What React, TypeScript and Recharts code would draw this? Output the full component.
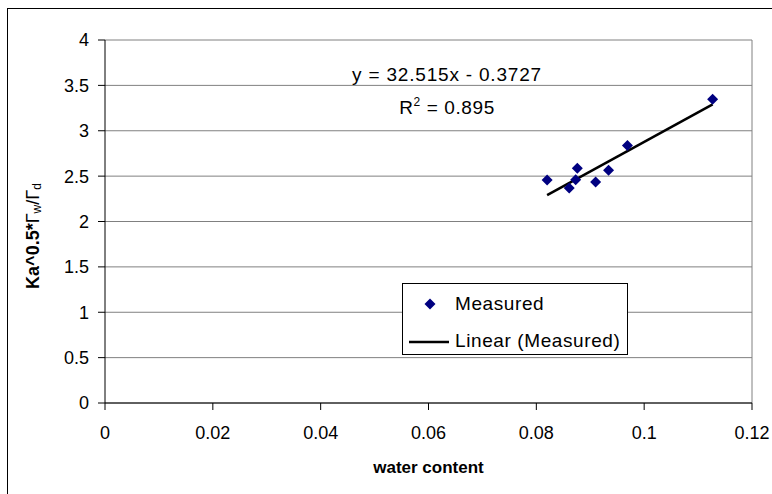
import React from 'react';
import {
  ScatterChart,
  Scatter,
  XAxis,
  YAxis,
  CartesianGrid,
  ReferenceLine,
  Legend,
  Label,
} from 'recharts';

// measured points
const waterContent = [0.082, 0.0861, 0.0873, 0.0876, 0.091, 0.0934, 0.0969, 0.1127];
const kaRatio = [2.456, 2.368, 2.459, 2.588, 2.434, 2.566, 2.837, 3.348];

// ends of the Excel linear trendline
const trendX = [0.082, 0.1127];
const trendY = [2.29, 3.29];

const xTicks = [0, 0.02, 0.04, 0.06, 0.08, 0.1, 0.12];
const yTicks = [0, 0.5, 1, 1.5, 2, 2.5, 3, 3.5, 4];

const equationText = 'y = 32.515x - 0.3727';
const rSquaredText = '0.895';

const measured = waterContent.map((x, i) => ({ x, y: kaRatio[i] }));
const trend = trendX.map((x, i) => ({ x, y: trendY[i] }));

const FONT = '"Liberation Sans", Arial, sans-serif';
const NAVY = '#000080';

const Diamond = (props: any) => {
  const { cx, cy } = props;
  const r = 5.5;
  return (
    <polygon
      points={`${cx},${cy - r} ${cx + r},${cy} ${cx},${cy + r} ${cx - r},${cy}`}
      fill={NAVY}
    />
  );
};

const NoDot = () => <g />;

const YTitle = () => (
  <text
    x={33}
    y={236}
    transform="rotate(-90, 33, 236)"
    textAnchor="middle"
    dominantBaseline="central"
    fontFamily={FONT}
    fontSize={18}
    fill="#000"
  >
    <tspan fontWeight="bold">Ka^0.5*</tspan>
    <tspan>Γ</tspan>
    <tspan fontSize={12} dy={4}>w</tspan>
    <tspan dy={-4}>/</tspan>
    <tspan>Γ</tspan>
    <tspan fontSize={12} dy={4}>d</tspan>
  </text>
);

const LegendBox = () => (
  <div
    style={{
      width: 224,
      height: 70,
      border: '1px solid #000',
      background: '#fff',
      position: 'relative',
      fontFamily: FONT,
      fontSize: 19,
      color: '#000',
    }}
  >
    <svg width={50} height={70} style={{ position: 'absolute', left: 0, top: 0 }}>
      <polygon points="27,14.5 32.5,20 27,25.5 21.5,20" fill={NAVY} />
      <line x1={6} y1={58} x2={46} y2={58} stroke="#000" strokeWidth={2.5} />
    </svg>
    <div style={{ position: 'absolute', left: 52, top: 9, lineHeight: '22px', letterSpacing: 0.6 }}>Measured</div>
    <div style={{ position: 'absolute', left: 52, top: 46, lineHeight: '22px', letterSpacing: 0.6, whiteSpace: 'nowrap' }}>
      Linear (Measured)
    </div>
  </div>
);

export default function App() {
  return (
    <div style={{ position: 'absolute', left: 0, top: 0, width: 772, height: 494, overflow: 'hidden', background: '#fff' }}>
      <div
        style={{
          position: 'absolute',
          left: 7,
          top: 8,
          width: 800,
          height: 520,
          borderLeft: '1px solid #000',
          borderTop: '1.5px solid #000',
        }}
      />
      <div style={{ position: 'absolute', left: 0, top: 0 }}>
        <ScatterChart width={772} height={494} margin={{ top: 40, right: 20, bottom: 0, left: 0 }}>
          <CartesianGrid vertical={false} stroke="#808080" horizontalValues={yTicks} />
          <XAxis
            type="number"
            dataKey="x"
            domain={[0, 0.12]}
            ticks={xTicks}
            height={91}
            stroke="#000"
            tickSize={7}
            tickMargin={16}
            tick={{ fill: '#000', fontSize: 18, fontFamily: FONT }}
            allowDataOverflow
          >
            <Label
              value="water content"
              position="insideBottom"
              offset={21}
              style={{ fontFamily: FONT, fontSize: 17, fontWeight: 'bold', fill: '#000' }}
            />
          </XAxis>
          <YAxis
            type="number"
            dataKey="y"
            domain={[0, 4]}
            ticks={yTicks}
            width={105}
            stroke="#000"
            tickSize={7}
            tickMargin={9}
            tick={{ fill: '#000', fontSize: 18, fontFamily: FONT }}
            tickFormatter={(v: number) => String(v)}
            allowDataOverflow
          >
            <Label content={<YTitle />} />
          </YAxis>
          <ReferenceLine x={0.12} stroke="#808080" />
          <Scatter
            data={trend}
            line={{ stroke: '#000', strokeWidth: 2.5 }}
            shape={<NoDot />}
            isAnimationActive={false}
            legendType="none"
          />
          <Scatter data={measured} shape={<Diamond />} fill={NAVY} isAnimationActive={false} />
          <Legend
            layout="horizontal"
            verticalAlign="middle"
            align="center"
            content={<LegendBox />}
            wrapperStyle={{ position: 'absolute', left: 402, top: 283, width: 226, height: 72 }}
          />
        </ScatterChart>
      </div>
      <div
        style={{
          position: 'absolute',
          left: 297,
          top: 64,
          width: 300,
          textAlign: 'center',
          fontFamily: FONT,
          fontSize: 19,
          lineHeight: '22px',
          letterSpacing: 0.8,
          color: '#000',
        }}
      >
        {equationText}
      </div>
      <div
        style={{
          position: 'absolute',
          left: 297,
          top: 97,
          width: 300,
          textAlign: 'center',
          fontFamily: FONT,
          fontSize: 19,
          lineHeight: '22px',
          letterSpacing: 0.6,
          color: '#000',
        }}
      >
        R<sup style={{ fontSize: 12, verticalAlign: 8, lineHeight: 0 }}>2</sup> = {rSquaredText}
      </div>
    </div>
  );
}
